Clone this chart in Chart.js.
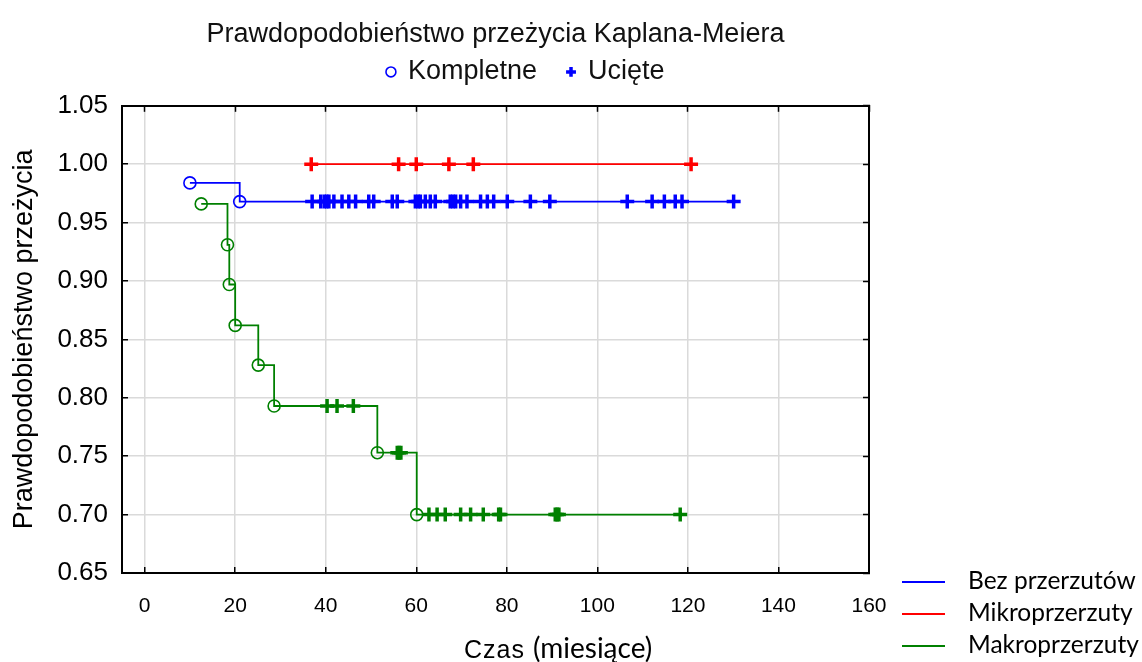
<!DOCTYPE html>
<html>
<head>
<meta charset="utf-8">
<script src="https://cdn.jsdelivr.net/npm/chart.js@4.4.1/dist/chart.umd.min.js"></script>
<style>
  body { margin: 0; background: #fff; }
  #wrap { position: relative; width: 1142px; height: 662px; }
  #xTitle { position: absolute; left: 464px; top: 630px; color: #000; white-space: nowrap; }
  #xTitle .a { font-family: "Liberation Sans", Arial, sans-serif; font-size: 25px; letter-spacing: 1px; }
  #xTitle .c { font-family: Lato, "Open Sans", sans-serif; font-size: 28px; margin-left: 8px; }
  #groupLegend { position: absolute; left: 902px; top: 564px; font-family: Lato, "Open Sans", sans-serif; font-size: 24.5px; color: #000; }
  #groupLegend .row { height: 32px; line-height: 32px; white-space: nowrap; }
  #groupLegend .sw { display: inline-block; width: 43px; height: 2px; vertical-align: middle; margin-right: 23px; position: relative; top: -1px; }
</style>
</head>
<body>
<div id="wrap">
  <canvas id="km" width="1142" height="662"></canvas>
  <div id="xTitle"><span class="a">Czas</span><span class="c">(miesiące)</span></div>
  <div id="groupLegend"></div>
</div>
<script>
// Bez przerzutów (blue)
var bezEventTimes = [10, 21];
var bezEventSurv = [0.984, 0.968];
var bezCensTimes = [37.0, 38.9, 39.7, 40.2, 40.7, 41.8, 43.6, 45.1, 46.6, 49.5, 50.6, 54.7, 55.8,
    59.8, 60.4, 60.9, 62.0, 63.1, 64.2, 67.5, 68.1, 68.7, 69.8, 71.2, 74.2, 75.7, 77.1, 80.1,
    85.2, 89.5, 106.6, 112.1, 114.8, 117.2, 118.7, 130.1];
var bezCensSurv = [0.968, 0.968, 0.968, 0.968, 0.968, 0.968, 0.968, 0.968, 0.968, 0.968, 0.968, 0.968, 0.968,
    0.968, 0.968, 0.968, 0.968, 0.968, 0.968, 0.968, 0.968, 0.968, 0.968, 0.968, 0.968, 0.968, 0.968, 0.968,
    0.968, 0.968, 0.968, 0.968, 0.968, 0.968, 0.968, 0.968];

// Mikroprzerzuty (red)
var mikroCensTimes = [36.8, 56.1, 60.0, 67.2, 72.6, 120.7];
var mikroCensSurv = [1.0, 1.0, 1.0, 1.0, 1.0, 1.0];

// Makroprzerzuty (green)
var makroEventTimes = [12.5, 18.3, 18.7, 20.0, 25.1, 28.6, 51.4, 60.1];
var makroEventSurv = [0.966, 0.931, 0.897, 0.862, 0.828, 0.793, 0.753, 0.700];
var makroCensTimes = [40.3, 42.5, 46.1, 55.8, 56.2, 56.6, 62.8, 64.6, 66.4, 69.8, 72.0, 74.8, 78.2, 78.6,
    90.7, 91.1, 91.5, 118.3];
var makroCensSurv = [0.793, 0.793, 0.793, 0.753, 0.753, 0.753, 0.700, 0.700, 0.700, 0.700, 0.700, 0.700, 0.700, 0.700,
    0.700, 0.700, 0.700, 0.700];

var xTicks = [0, 20, 40, 60, 80, 100, 120, 140, 160];
var yTicks = [0.65, 0.70, 0.75, 0.80, 0.85, 0.90, 0.95, 1.00, 1.05];

var BLUE = '#0000ff', RED = '#ff0000', GREEN = '#008000';

function toPoints(times, surv) {
    return times.map(function (t, i) { return { x: t, y: surv[i] }; });
}

// whole step curve: events and censored points in time order
function stepPoints(eT, eS, cT, cS) {
    return toPoints(eT, eS).concat(toPoints(cT, cS)).sort(function (a, b) { return a.x - b.x; });
}

function lineSet(label, pts, color) {
    return { label: label, data: pts, showLine: true, stepped: 'before', borderColor: color,
        borderWidth: 1.8, pointRadius: 0, pointHoverRadius: 0, fill: false };
}
function eventSet(label, pts, color) {
    return { label: label, data: pts, showLine: false, pointStyle: 'circle', pointRadius: 6,
        pointBorderWidth: 1.6, borderColor: color, backgroundColor: 'rgba(0,0,0,0)' };
}
function censSet(label, pts, color) {
    return { label: label, data: pts, showLine: false, pointStyle: 'cross', pointRadius: 7,
        pointBorderWidth: 3.5, borderColor: color, backgroundColor: color };
}

var datasets = [
    eventSet('Bez przerzutów kompletne', toPoints(bezEventTimes, bezEventSurv), BLUE),
    eventSet('Makroprzerzuty kompletne', toPoints(makroEventTimes, makroEventSurv), GREEN),
    censSet('Bez przerzutów ucięte', toPoints(bezCensTimes, bezCensSurv), BLUE),
    censSet('Mikroprzerzuty ucięte', toPoints(mikroCensTimes, mikroCensSurv), RED),
    censSet('Makroprzerzuty ucięte', toPoints(makroCensTimes, makroCensSurv), GREEN),
    lineSet('Bez przerzutów', stepPoints(bezEventTimes, bezEventSurv, bezCensTimes, bezCensSurv), BLUE),
    lineSet('Mikroprzerzuty', stepPoints([], [], mikroCensTimes, mikroCensSurv), RED),
    lineSet('Makroprzerzuty', stepPoints(makroEventTimes, makroEventSurv, makroCensTimes, makroCensSurv), GREEN),
    // only for the legend on top (trailing spaces keep it placed like the original)
    { label: 'Kompletne   ', data: [], showLine: false, pointStyle: 'circle', pointRadius: 5,
        pointBorderWidth: 1.6, borderColor: BLUE, backgroundColor: 'rgba(0,0,0,0)', legendOnly: true },
    { label: 'Ucięte            ', data: [], showLine: false, pointStyle: 'cross', pointRadius: 5,
        pointBorderWidth: 3.5, borderColor: BLUE, backgroundColor: BLUE, legendOnly: true }
];

var GRID = '#dadada';

Chart.defaults.font.family = '"Liberation Sans", Arial, sans-serif';
Chart.defaults.color = '#000';

new Chart(document.getElementById('km'), {
    type: 'scatter',
    data: { datasets: datasets },
    options: {
        responsive: false,
        animation: false,
        layout: { padding: 0 },
        plugins: {
            title: {
                display: true,
                text: 'Prawdopodobieństwo przeżycia Kaplana-Meiera',
                fullSize: false,
                font: { size: 27, weight: 'normal' },
                color: '#111',
                padding: { top: 18, bottom: 0 }
            },
            legend: {
                display: true,
                fullSize: true,
                labels: {
                    usePointStyle: true,
                    boxWidth: 7,
                    boxHeight: 7,
                    padding: 8,
                    font: { size: 27 },
                    color: '#111',
                    filter: function (item, data) { return data.datasets[item.datasetIndex].legendOnly; }
                }
            },
            tooltip: { enabled: false }
        },
        scales: {
            x: {
                type: 'linear', position: 'bottom', min: -5, max: 160,
                afterBuildTicks: function (s) { s.ticks = xTicks.map(function (v) { return { value: v }; }); },
                afterFit: function (s) { s.height = 89; },
                ticks: { font: { size: 21 }, padding: 27, color: '#000' },
                grid: { color: GRID, lineWidth: 1.5, tickLength: -6, tickColor: '#000', tickWidth: 1.5 },
                border: { color: '#000', width: 2 }
            },
            xTop: {
                type: 'linear', position: 'top', min: -5, max: 160,
                afterBuildTicks: function (s) { s.ticks = xTicks.map(function (v) { return { value: v }; }); },
                afterFit: function (s) { s.height = 10.4; },
                ticks: { display: false },
                grid: { drawOnChartArea: false, tickLength: -6, tickColor: '#000', tickWidth: 1.5 },
                border: { color: '#000', width: 2 }
            },
            y: {
                type: 'linear', position: 'left', min: 0.65, max: 1.05,
                afterBuildTicks: function (s) { s.ticks = yTicks.map(function (v) { return { value: v }; }); },
                afterFit: function (s) { s.width = 122; },
                ticks: { font: { size: 26 }, padding: 20, color: '#000',
                    callback: function (v) { return v.toFixed(2); } },
                grid: { color: GRID, lineWidth: 1.5, tickLength: -6, tickColor: '#000', tickWidth: 1.5 },
                border: { color: '#000', width: 2 },
                title: { display: true, text: 'Prawdopodobieństwo przeżycia', font: { size: 27 },
                    color: '#000', padding: { top: 8, bottom: 0 } }
            },
            yRight: {
                type: 'linear', position: 'right', min: 0.65, max: 1.05,
                afterBuildTicks: function (s) { s.ticks = yTicks.map(function (v) { return { value: v }; }); },
                afterFit: function (s) { s.width = 273; },
                ticks: { display: false },
                grid: { drawOnChartArea: false, tickLength: -6, tickColor: '#000', tickWidth: 1.5 },
                border: { color: '#000', width: 2 }
            }
        }
    }
});

// legend for the groups, lower right
var groups = [['Bez przerzutów', BLUE], ['Mikroprzerzuty', RED], ['Makroprzerzuty', GREEN]];
var gl = document.getElementById('groupLegend');
groups.forEach(function (g) {
    var row = document.createElement('div');
    row.className = 'row';
    row.innerHTML = '<span class="sw" style="background:' + g[1] + '"></span>' + g[0];
    gl.appendChild(row);
});
</script>
</body>
</html>
